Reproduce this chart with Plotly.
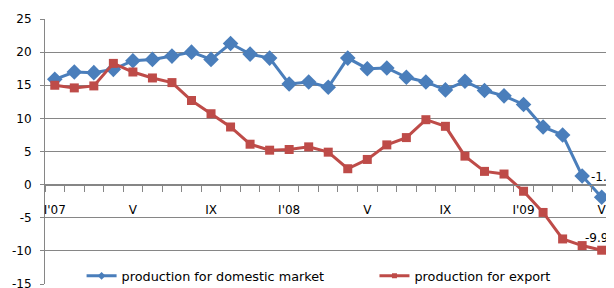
import plotly.graph_objects as go

months = list(range(29))
tick_positions = [0, 4, 8, 12, 16, 20, 24, 28]
tick_labels = ["I'07", "V", "IX", "I'08", "V", "IX", "I'09", "V"]
y_ticks = [-15, -10, -5, 0, 5, 10, 15, 20, 25]

domestic = [15.9, 17.0, 16.9, 17.4, 18.7, 18.9, 19.4, 20.0, 18.9, 21.3,
            19.7, 19.1, 15.2, 15.5, 14.7, 19.1, 17.5, 17.6, 16.2, 15.5,
            14.3, 15.6, 14.2, 13.4, 12.1, 8.7, 7.5, 1.3, -1.9]
export = [15.0, 14.6, 14.9, 18.3, 17.0, 16.1, 15.4, 12.7, 10.7, 8.7,
          6.1, 5.2, 5.3, 5.7, 4.9, 2.4, 3.8, 6.0, 7.1, 9.8,
          8.8, 4.3, 2.0, 1.6, -1.0, -4.2, -8.2, -9.2, -9.9]

BLUE = "#4A7EBB"
RED = "#BE4B48"
GRID = "#868686"
FONT = "DejaVu Sans"

fig = go.Figure()
# data traces
fig.add_trace(go.Scatter(
    x=months, y=domestic, mode="lines+markers",
    name="production for domestic market", showlegend=False,
    line=dict(color=BLUE, width=3),
    marker=dict(symbol="diamond", size=12, color=BLUE),
    cliponaxis=False,
))
fig.add_trace(go.Scatter(
    x=months, y=export, mode="lines+markers",
    name="production for export", showlegend=False,
    line=dict(color=RED, width=3),
    marker=dict(symbol="square", size=9, color=RED),
    cliponaxis=False,
))
# legend entries (small markers as in the original)
fig.add_trace(go.Scatter(
    x=[None], y=[None], mode="lines+markers",
    name="production for domestic market", legend="legend",
    line=dict(color=BLUE, width=3),
    marker=dict(symbol="diamond", size=6, color=BLUE),
))
fig.add_trace(go.Scatter(
    x=[None], y=[None], mode="lines+markers",
    name="production for export", legend="legend2",
    line=dict(color=RED, width=3),
    marker=dict(symbol="square", size=5, color=RED),
))

fig.add_annotation(x=months[-1], y=domestic[-1], text=f"{domestic[-1]:.1f}",
                   showarrow=False, xanchor="left", yanchor="middle",
                   xshift=-13, yshift=20, font=dict(family=FONT, size=12, color="#000"))
fig.add_annotation(x=months[-1], y=export[-1], text=f"{export[-1]:.1f}",
                   showarrow=False, xanchor="left", yanchor="middle",
                   xshift=-19, yshift=12, font=dict(family=FONT, size=12, color="#000"))

legend_style = dict(orientation="h", y=0.03, xanchor="left", yanchor="middle",
                    bgcolor="rgba(0,0,0,0)", font=dict(family=FONT, size=12.8),
                    itemwidth=30)

fig.update_layout(
    width=614, height=288,
    margin=dict(l=37, r=0, t=11, b=12, autoexpand=False),
    paper_bgcolor="white", plot_bgcolor="white",
    font=dict(family=FONT, size=12, color="#000"),
    showlegend=True,
    legend=dict(x=0.0634, **legend_style),
    legend2=dict(x=0.571, **legend_style),
    xaxis=dict(
        range=[-0.5, 29.04], anchor="free", position=15 / 40,
        automargin=False,
        showgrid=False, zeroline=False,
        showline=True, linecolor=GRID, linewidth=1,
        tickmode="array", tickvals=tick_positions, ticktext=tick_labels,
        ticks="", ticklabelstandoff=14,
        minor=dict(tickmode="array", tickvals=[i - 0.5 for i in range(30)],
                   ticks="outside", ticklen=6, tickcolor=GRID, showgrid=False),
    ),
    yaxis=dict(
        range=[-15, 25], automargin=False,
        tickmode="array", tickvals=y_ticks, ticktext=[str(v) for v in y_ticks],
        showgrid=True, gridcolor=GRID, gridwidth=1,
        zeroline=False, showline=True, linecolor=GRID,
        ticks="outside", ticklen=4, tickcolor=GRID, ticklabelstandoff=6,
    ),
)

fig.write_html("out.html")
